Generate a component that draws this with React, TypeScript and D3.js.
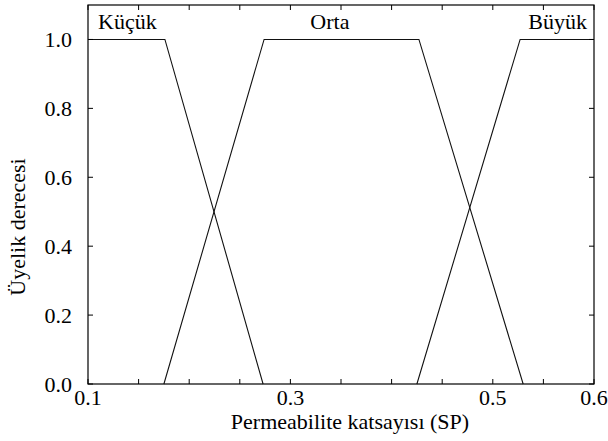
import React, { useEffect } from 'react';
import * as d3 from 'd3';

// membership functions (x = permeability coefficient, y = membership degree)
const kucukX = [0.1, 0.176, 0.273];
const kucukY = [1, 1, 0];
const ortaX = [0.175, 0.274, 0.427, 0.53];
const ortaY = [0, 1, 1, 0];
const buyukX = [0.425, 0.527, 0.6];
const buyukY = [0, 1, 1];

const setLabels = ['Küçük', 'Orta', 'Büyük'];
const xTicks = [0.1, 0.15, 0.2, 0.25, 0.3, 0.35, 0.4, 0.45, 0.5, 0.55, 0.6];
const xTickLabels = [0.1, 0.3, 0.5, 0.6];
const yTicks = [0, 0.2, 0.4, 0.6, 0.8, 1.0];

const W = 608;
const H = 441;
const margin = { top: 5, right: 14, bottom: 57, left: 88 };

const App = () => {
  useEffect(() => {
    document.body.style.margin = '0';
  }, []);

  const x = d3.scaleLinear().domain([0.1, 0.6]).range([margin.left, W - margin.right]);
  const y = d3.scaleLinear().domain([0, 1.1]).range([H - margin.bottom, margin.top]);

  const line = d3.line<[number, number]>()
    .x(d => x(d[0]))
    .y(d => y(d[1]));

  const series = [
    d3.zip(kucukX, kucukY),
    d3.zip(ortaX, ortaY),
    d3.zip(buyukX, buyukY),
  ] as [number, number][][];

  const x0 = x.range()[0], x1 = x.range()[1];
  const y0 = y.range()[0], y1 = y.range()[1];
  const tick = 5;

  return (
    <svg width={W} height={H} style={{ display: 'block', background: '#fff' }}>
      <g fontFamily="Liberation Serif" fontSize={22} fill="#000">
        {series.map((s, i) => (
          <path key={i} d={line(s) || ''} fill="none" stroke="#111" strokeWidth={1.1} />
        ))}
        <rect x={x0} y={y1} width={x1 - x0} height={y0 - y1} fill="none" stroke="#000" strokeWidth={1.2} />
        {xTicks.map(t => (
          <g key={'x' + t}>
            <line x1={x(t)} x2={x(t)} y1={y0} y2={y0 - tick} stroke="#000" />
            <line x1={x(t)} x2={x(t)} y1={y1} y2={y1 + tick} stroke="#000" />
          </g>
        ))}
        {yTicks.map(t => (
          <g key={'y' + t}>
            <line x1={x0} x2={x0 + tick} y1={y(t)} y2={y(t)} stroke="#000" />
            <line x1={x1} x2={x1 - tick} y1={y(t)} y2={y(t)} stroke="#000" />
            <text x={x0 - 16} y={y(t) + 8} textAnchor="end">
              {d3.format('.1f')(t)}
            </text>
          </g>
        ))}
        {xTickLabels.map(t => (
          <text key={'xl' + t} x={x(t)} y={405} textAnchor="middle">
            {d3.format('.1f')(t)}
          </text>
        ))}
        <text x={x(0.1) + 10} y={y(1.03)}>{setLabels[0]}</text>
        <text x={x(0.339)} y={y(1.03)} textAnchor="middle">{setLabels[1]}</text>
        <text x={x(0.593)} y={y(1.03)} textAnchor="end">{setLabels[2]}</text>
        <text x={350} y={429} textAnchor="middle">
          Permeabilite katsayısı (SP)
        </text>
        <text transform="translate(25,227) rotate(-90)" textAnchor="middle">
          Üyelik derecesi
        </text>
      </g>
    </svg>
  );
};

export default App;
